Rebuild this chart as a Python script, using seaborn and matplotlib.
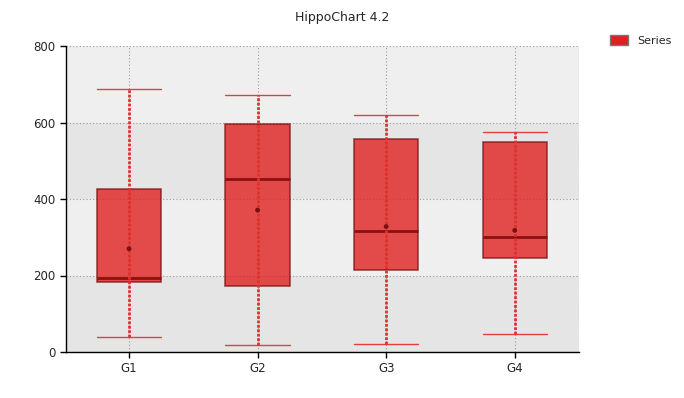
import matplotlib
matplotlib.use("Agg")
import matplotlib.pyplot as plt
import seaborn as sns
import pandas as pd
from matplotlib.patches import Patch

categories = ["G1", "G2", "G3", "G4"]
whisker_low = [38, 17, 20, 46]
q1 = [184, 172, 215, 247]
median = [194, 452, 316, 301]
q3 = [425, 595, 556, 548]
whisker_high = [687, 671, 619, 574]
means = [270, 371, 328, 318]
y_ticks = [0, 200, 400, 600, 800]

sns.set_style("white")
plt.rcParams['font.family'] = ['DejaVu Sans']

fig = plt.figure(figsize=(6.84, 3.98), dpi=100)
ax = fig.add_axes([66/684, 1-352/398, (579-66)/684, (352-46)/398])

# alternating background bands
for i in range(len(y_ticks) - 1):
    ax.axhspan(y_ticks[i], y_ticks[i+1], color="#e5e5e5" if i % 2 == 0 else "#efefef", zorder=0, lw=0)

stats = []
for i, c in enumerate(categories):
    stats.append(dict(label=c, whislo=whisker_low[i], q1=q1[i], med=median[i],
                      q3=q3[i], whishi=whisker_high[i], mean=means[i], fliers=[]))

positions = list(range(len(categories)))
ax.bxp(stats, positions=positions, widths=0.5, patch_artist=True, showmeans=False,
       showfliers=False,
       boxprops=dict(facecolor=(0.88, 0.13, 0.13, 0.8), edgecolor=(0.45, 0.05, 0.05, 0.7), linewidth=1.2),
       medianprops=dict(color="#8b1010", linewidth=2),
       whiskerprops=dict(color="none", linewidth=0),
       capprops=dict(color="#e04040", linewidth=1),
       capwidths=0.5, zorder=3)

# dotted whisker line running through the box
ax.vlines(positions, whisker_low, whisker_high, colors="#e03030",
          linestyles=[(0, (1, 0.6))], linewidth=2, zorder=4)

df = pd.DataFrame({"cat": positions, "mean": means})
sns.scatterplot(data=df, x="cat", y="mean", ax=ax, color="#7a1010", s=12, edgecolor="none", zorder=5)

ax.set_xlim(-0.49, 3.5)
ax.set_ylim(0, 800)
ax.set_yticks(y_ticks)
ax.set_xticks(positions)
ax.set_xticklabels(categories)
ax.set_xlabel("")
ax.set_ylabel("")
ax.grid(True, color="#999999", linestyle=(0, (1, 2)), linewidth=0.8, zorder=1)
ax.set_axisbelow(True)
ax.axvline(3.5, color="#999999", linestyle=(0, (1, 2)), linewidth=0.8, zorder=1)
for s in ["top", "right"]:
    ax.spines[s].set_visible(False)
for s in ["left", "bottom"]:
    ax.spines[s].set_color("black")
    ax.spines[s].set_linewidth(1)
ax.tick_params(axis="both", which="both", length=4, width=1, color="black", labelsize=8.5, direction="out", left=True, bottom=True)

fig.text(342/684, 1-18/398, "HippoChart 4.2", ha="center", va="center", fontsize=9)
fig.legend(handles=[Patch(facecolor="#e02020", edgecolor="#777777", label="Series")],
           loc="upper left", bbox_to_anchor=(606/684, 1-31/398), frameon=False, fontsize=8,
           handlelength=1.6, handleheight=1.0, borderaxespad=0)

fig.savefig("out.png", dpi=100)
